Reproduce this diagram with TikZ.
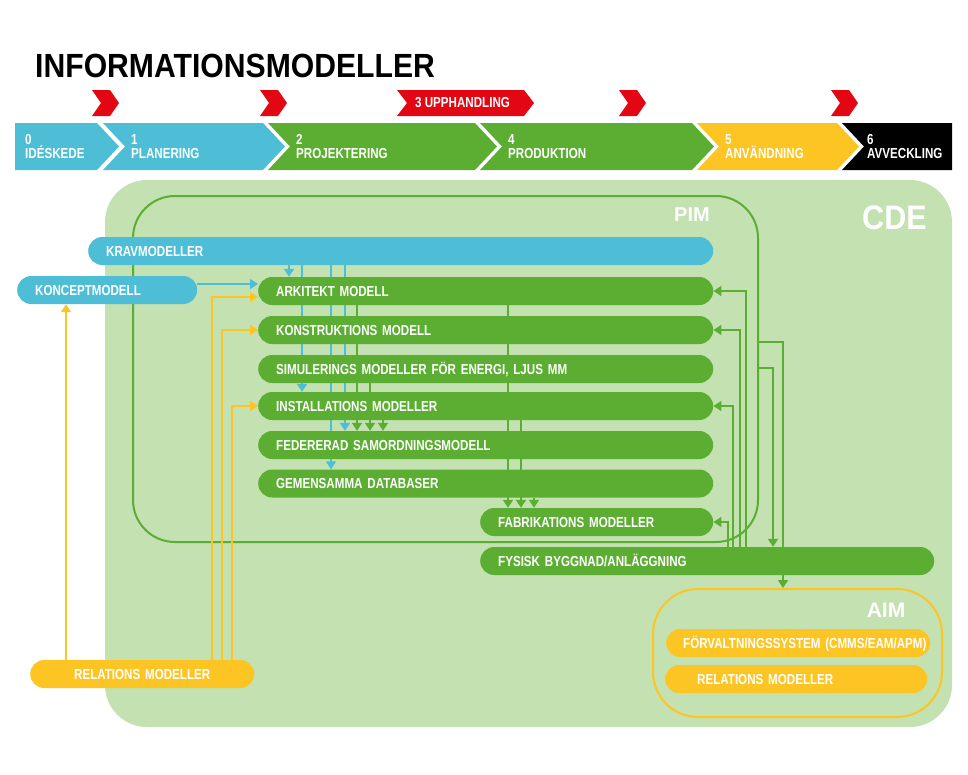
\documentclass[tikz,border=0pt]{standalone}
\usepackage{fontspec}
\setmainfont{Liberation Sans}
\newfontfamily\condfont{Liberation Sans}[FakeStretch=0.8]
\newfontfamily\titlefont{Liberation Sans}[FakeStretch=0.9]
\usetikzlibrary{arrows.meta}

\definecolor{kravblue}{HTML}{4DBED5}
\definecolor{modgreen}{HTML}{5BAE32}
\definecolor{relyellow}{HTML}{FCC523}
\definecolor{cdegreen}{HTML}{C3E1B1}
\definecolor{markred}{HTML}{E30613}

\pgfdeclarelayer{bg}
\pgfdeclarelayer{lines}
\pgfsetlayers{bg,lines,main}

\tikzset{
  bar/.style={anchor=west, rounded corners=14pt, minimum height=28pt,
    inner xsep=18pt, inner ysep=0pt, text height=10.4pt, text depth=0pt,
    align=left, text=white, font=\condfont\bfseries\fontsize{14.5}{14.5}\selectfont},
  phase/.style={anchor=west, align=left, inner sep=0pt, text=white,
    font=\condfont\bfseries\fontsize{14.5}{14}\selectfont},
  tip/.style={-{Triangle[length=8pt,width=10pt]}},
  blueline/.style={draw=kravblue, line width=1.6pt, tip},
  greenline/.style={draw=modgreen, line width=1.6pt, tip},
  yellowline/.style={draw=relyellow, line width=1.6pt, tip},
}

\begin{document}
\begin{tikzpicture}[x=1pt, y=-1pt]
  \useasboundingbox (0,0) rectangle (968,774);

  % Title
  \node[anchor=base west, inner sep=0pt,
        font=\titlefont\bfseries\fontsize{33.5}{33.5}\selectfont] (title) at (35,77) {INFORMATIONSMODELLER};

  % Red markers above the phases
  \foreach \xa in {92,260,619,831}
    \fill[markred] (\xa,90) -- ++(18,0) -- ++(9,13) -- ++(-9,13) -- ++(-18,0) -- ++(9,-13) -- cycle;
  \fill[markred] (397,90) -- (524,90) -- (534,103) -- (524,116) -- (397,116) -- (407,103) -- cycle;
  \node[phase] (upph) at (415,102.5) {3 UPPHANDLING};

  % Phase bar
  \fill[kravblue] (15,123) -- (97,123) -- (119,146.5) -- (97,170) -- (15,170) -- cycle;
  \node[phase] (ph0) at (25,146.5) {0\\IDÉSKEDE};
  \foreach \xa/\xb/\col/\num/\name in {103/263/kravblue/1/PLANERING,
      268/475/modgreen/2/PROJEKTERING, 480/692/modgreen/4/PRODUKTION,
      697/837/relyellow/5/ANVÄNDNING} {
    \fill[\col] (\xa,123) -- (\xb,123) -- (\xb+22,146.5) -- (\xb,170) -- (\xa,170) -- (\xa+22,146.5) -- cycle;
    \node[phase] (ph\num) at (\xa+28,146.5) {\num\\\name};
  }
  \fill[black] (842,123) -- (952,123) -- (952,170) -- (842,170) -- (864,146.5) -- cycle;
  \node[phase] (ph6) at (867,146.5) {6\\AVVECKLING};

  % Environments
  \begin{pgfonlayer}{bg}
    \node[fill=cdegreen, rounded corners=42pt, inner sep=0pt,
          minimum width=847pt, minimum height=547pt] (cde) at (528.5,453.5) {};
    \node[draw=modgreen, line width=2pt, rounded corners=42pt, inner sep=0pt,
          minimum width=625pt, minimum height=346pt] (pim) at (445.5,369) {};
    \node[draw=relyellow, line width=2pt, rounded corners=45pt, inner sep=0pt,
          minimum width=289pt, minimum height=128pt] (aim) at (797.5,653) {};
  \end{pgfonlayer}
  \node[text=white, font=\titlefont\bfseries\fontsize{34}{34}\selectfont] (cdelabel) at (894.5,218) {CDE};
  \node[text=white, font=\bfseries\fontsize{20}{20}\selectfont] (pimlabel) at (692,215) {PIM};
  \node[text=white, font=\bfseries\fontsize{21}{21}\selectfont] (aimlabel) at (886,610) {AIM};

  % Models
  \node[bar, fill=kravblue, text width=589pt] (krav) at (88,251) {KRAVMODELLER};
  \node[bar, fill=kravblue, text width=144pt] (koncept) at (17,290) {KONCEPTMODELL};
  \node[bar, fill=modgreen, text width=419pt] (ark) at (258,291) {ARKITEKT MODELL};
  \node[bar, fill=modgreen, text width=419pt] (kon) at (258,330) {KONSTRUKTIONS MODELL};
  \node[bar, fill=modgreen, text width=419pt] (sim) at (258,369) {SIMULERINGS MODELLER FÖR ENERGI, LJUS MM};
  \node[bar, fill=modgreen, text width=419pt] (inst) at (258,406) {INSTALLATIONS MODELLER};
  \node[bar, fill=modgreen, text width=419pt] (fed) at (258,445) {FEDERERAD SAMORDNINGSMODELL};
  \node[bar, fill=modgreen, text width=419pt] (gem) at (258,483.5) {GEMENSAMMA DATABASER};
  \node[bar, fill=modgreen, text width=197pt] (fab) at (480,522) {FABRIKATIONS MODELLER};
  \node[bar, fill=modgreen, text width=418pt] (fysisk) at (480,561) {FYSISK BYGGNAD/ANLÄGGNING};
  \node[bar, fill=relyellow, text width=188pt, align=center] (relL) at (30,674) {RELATIONS MODELLER};
  \node[bar, fill=relyellow, inner xsep=17pt, text width=230pt] (forv) at (666,643)
    {\mbox{FÖRVALTNINGSSYSTEM (CMMS/EAM/APM)}};
  \node[bar, fill=relyellow, inner xsep=32pt, text width=198pt] (relR) at (665,679) {RELATIONS MODELLER};

  \begin{pgfonlayer}{lines}
    % Requirements and concept
    \draw[blueline] (koncept.east |- 0,284) -- (ark.west |- 0,284);
    \draw[blueline] (krav.south -| 289,0) -- (ark.north -| 289,0);
    \draw[blueline] (krav.south -| 302,0) -- (inst.north -| 302,0);
    \draw[blueline] (krav.south -| 331,0) -- (gem.north -| 331,0);
    \draw[blueline] (krav.south -| 345,0) -- (fed.north -| 345,0);

    % Coordination
    \draw[greenline] (ark.south -| 357,0) -- (fed.north -| 357,0);
    \draw[greenline] (sim.south -| 370,0) -- (fed.north -| 370,0);
    \draw[greenline] (inst.south -| 383,0) -- (fed.north -| 383,0);
    \draw[greenline] (ark.south -| 508,0) -- (fab.north -| 508,0);
    \draw[greenline] (inst.south -| 521,0) -- (fab.north -| 521,0);
    \draw[greenline] (gem.south -| 534,0) -- (fab.north -| 534,0);

    % Feedback from the built facility
    \draw[greenline] (fysisk.north -| 746,0) |- (ark.east);
    \draw[greenline] (fysisk.north -| 740,0) |- (kon.east);
    \draw[greenline] (fysisk.north -| 733,0) |- (inst.east);
    \draw[greenline] (fysisk.north -| 728,0) |- (fab.east);

    % PIM to facility and AIM
    \draw[greenline] (pim.east |- 0,342) -| (aim.north -| 783,0);
    \draw[greenline] (pim.east |- 0,368) -| (fysisk.north -| 773,0);

    % Relation models
    \draw[yellowline] (relL.north -| 66,0) -- (koncept.south -| 66,0);
    \draw[yellowline] (relL.north -| 212,0) |- (ark.west |- 0,297);
    \draw[yellowline] (relL.north -| 222,0) |- (kon.west);
    \draw[yellowline] (relL.north -| 232,0) |- (inst.west);
  \end{pgfonlayer}
\end{tikzpicture}
\end{document}
